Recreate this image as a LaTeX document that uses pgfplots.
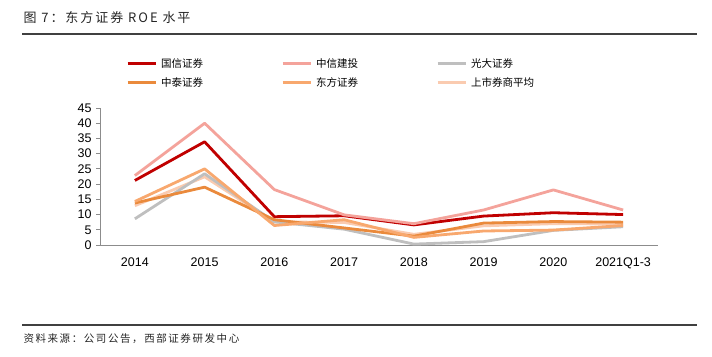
\documentclass[border=0pt]{standalone}
\usepackage{pgfplots}
\pgfplotsset{compat=1.18}
\usepackage{fontspec}
\setmainfont{Liberation Sans}
\newfontfamily\cjk{Noto Sans CJK SC}
\newfontfamily\cjkspaced{Noto Sans CJK SC}[LetterSpace=15]
\definecolor{c1}{HTML}{C00000}
\definecolor{c2}{HTML}{F4A39B}
\definecolor{c3}{HTML}{BFBFBF}
\definecolor{c4}{HTML}{EA8A3C}
\definecolor{c5}{HTML}{F8A86E}
\definecolor{c6}{HTML}{FACBB0}
\definecolor{axgray}{HTML}{8C8C8C}
\begin{document}
\begin{tikzpicture}[x=1bp,y=1bp]
\path[use as bounding box] (0,0) rectangle (712,356);
\node[anchor=west,font=\cjkspaced\fontsize{13bp}{15bp}\selectfont,text=black!85] at (20,338) {图 7：东方证券 ROE 水平};
\draw[line width=1.2bp,black!75] (22,322) -- (697,322);
\draw[line width=1.2bp,black!75] (22,31) -- (697,31);
\node[anchor=west,font=\cjkspaced\fontsize{10.5bp}{12bp}\selectfont,text=black!85] at (20,17) {资料来源：公司公告，西部证券研发中心};
\begin{axis}[
  at={(100bp,111bp)}, anchor=south west,
  scale only axis, width=558bp, height=137bp,
  xmin=-0.5, xmax=7.5, ymin=0, ymax=45,
  xtick={0,...,7},
  xticklabels={2014,2015,2016,2017,2018,2019,2020,2021Q1-3},
  extra x ticks={-0.5,0.5,1.5,2.5,3.5,4.5,5.5,6.5,7.5},
  extra x tick labels={},
  extra x tick style={major tick length=5bp, tick style={axgray,line width=0.8bp}},
  ytick={0,5,...,45},
  axis x line*=bottom, axis y line*=left,
  axis line style={axgray,line width=0.8bp,-},
  x tick style={draw=none},
  y tick style={axgray,line width=0.8bp},
  major tick length=4bp,
  tick align=outside,
  ticklabel style={font=\fontsize{12.5bp}{14bp}\selectfont, text=black},
  /pgf/number format/assume math mode=true,
  xticklabel style={yshift=-5bp},
  yticklabel style={xshift=-1bp},
  legend columns=3,
  legend style={draw=none, fill=none, at={(23bp,191bp)}, anchor=north west,
    font=\cjk\fontsize{10.5bp}{12bp}\selectfont,
    /tikz/every even column/.append style={column sep=4bp},
    /tikz/every odd column/.append style={column sep=2bp},
    nodes={anchor=west},
    row sep=5bp},
  legend cell align=left,
  legend image code/.code={\draw[#1,line width=3bp] (0bp,0bp) -- (28bp,0bp);},
  every axis plot/.append style={line width=2.8bp, line join=round},
]
\addplot[c6,forget plot] coordinates {(0,12.9)(1,22.4)(2,7.6)(3,7.4)(4,3.5)(5,6.3)(6,7.0)(7,6.9)};
\addplot[c1] coordinates {(0,21.2)(1,33.9)(2,9.3)(3,9.6)(4,6.6)(5,9.5)(6,10.6)(7,10.0)};
\addlegendentry{\makebox[114bp][l]{国信证券}}
\addplot[c2] coordinates {(0,22.8)(1,40.0)(2,18.2)(3,9.9)(4,7.0)(5,11.5)(6,18.1)(7,11.5)};
\addlegendentry{\makebox[114bp][l]{中信建投}}
\addplot[c3] coordinates {(0,8.6)(1,23.4)(2,7.6)(3,5.2)(4,0.3)(5,1.1)(6,4.8)(7,6.0)};
\addlegendentry{\makebox[114bp][l]{光大证券}}
\addplot[c4] coordinates {(0,13.8)(1,19.0)(2,8.3)(3,5.6)(4,2.9)(5,7.2)(6,7.7)(7,7.5)};
\addlegendentry{\makebox[114bp][l]{中泰证券}}
\addplot[c5] coordinates {(0,14.3)(1,25.0)(2,6.4)(3,8.3)(4,2.5)(5,4.6)(6,4.9)(7,6.4)};
\addlegendentry{\makebox[114bp][l]{东方证券}}
\addlegendimage{c6}
\addlegendentry{\makebox[114bp][l]{上市券商平均}}
\end{axis}
\end{tikzpicture}
\end{document}
